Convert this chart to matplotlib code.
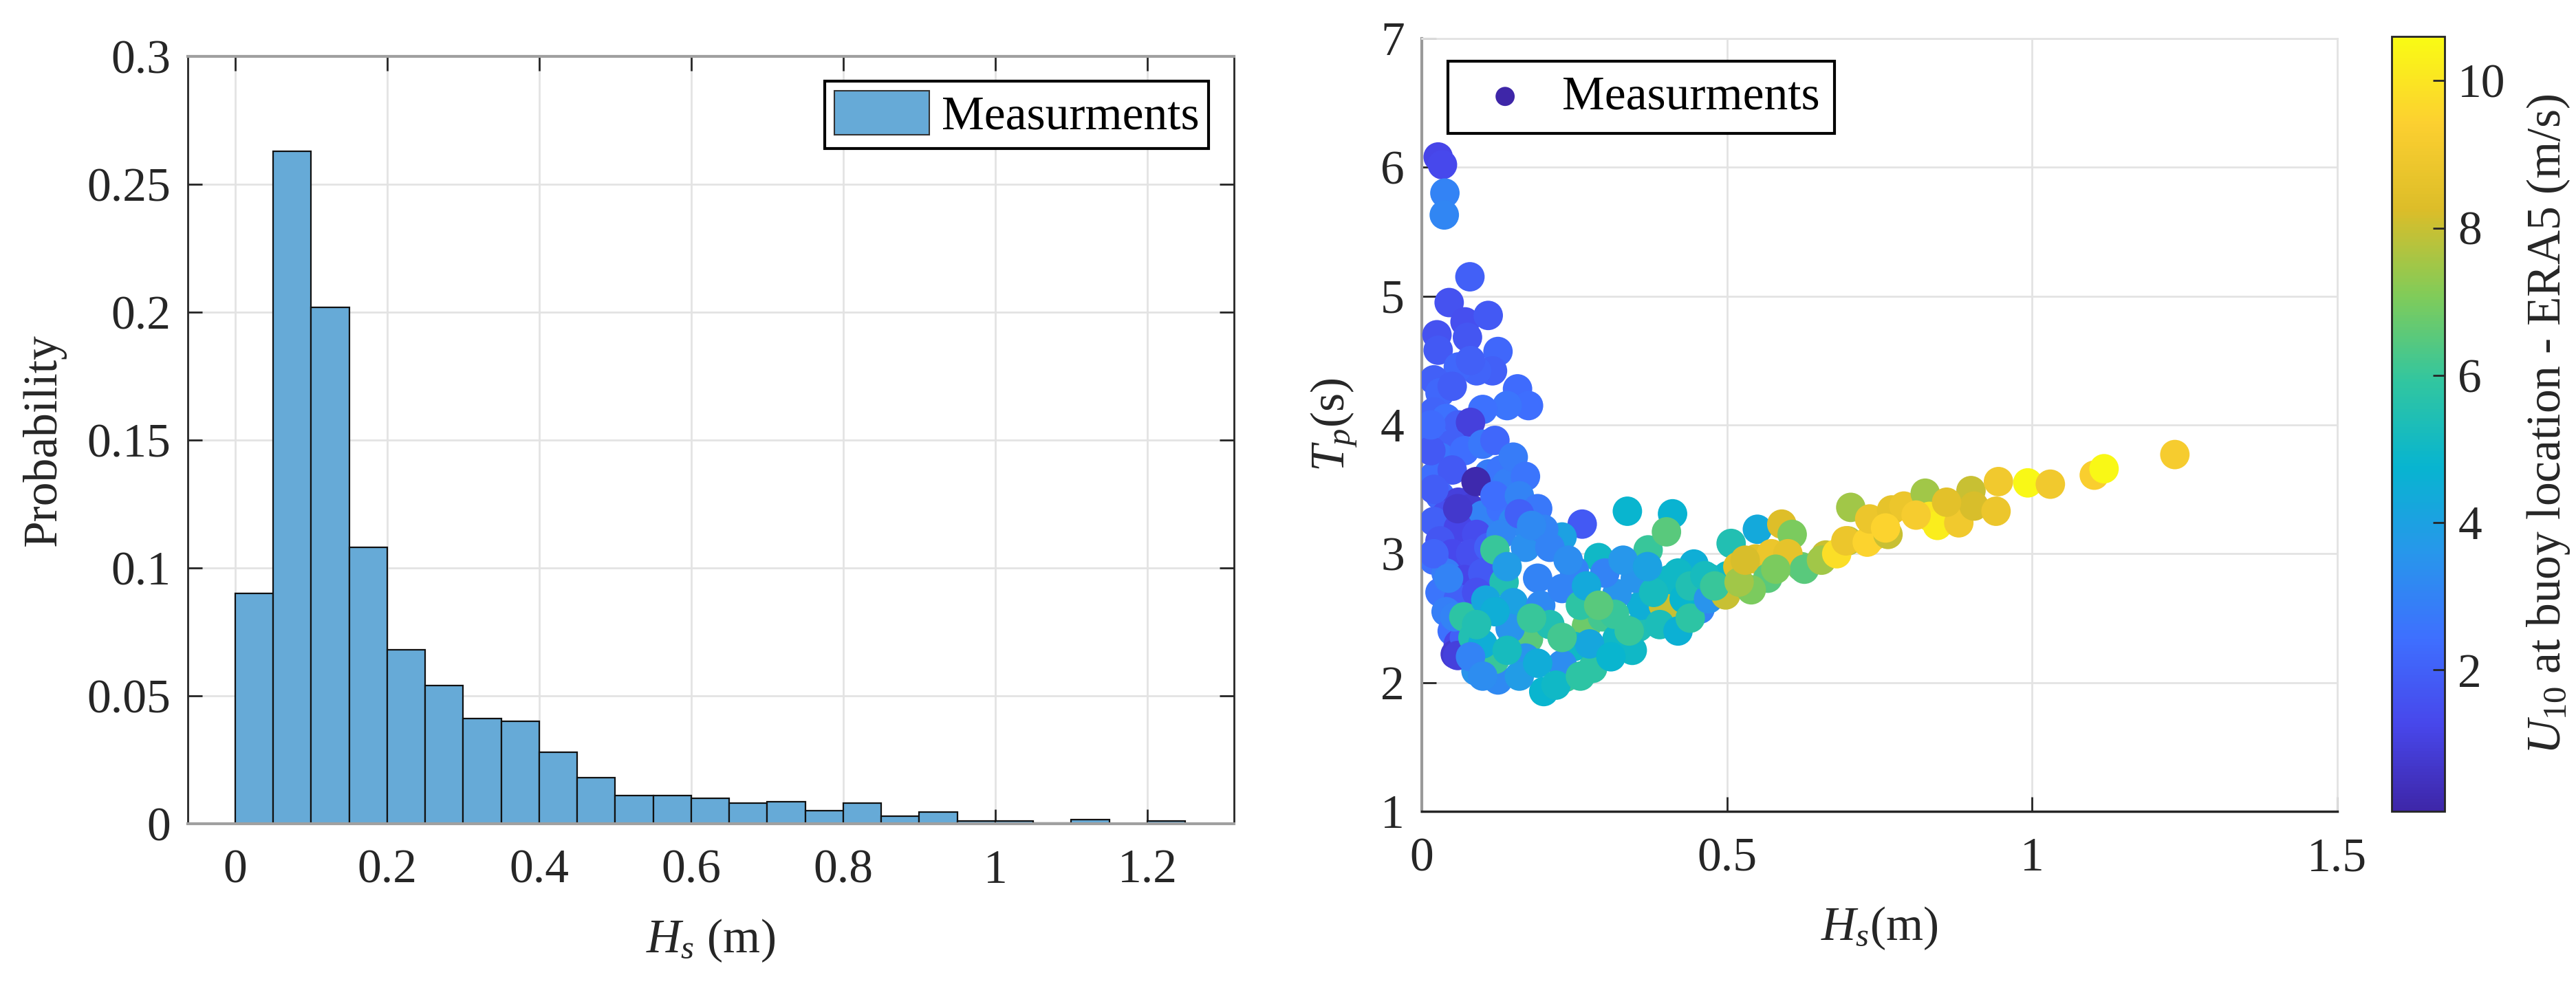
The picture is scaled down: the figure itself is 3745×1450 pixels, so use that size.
import numpy as np
import matplotlib
matplotlib.use('Agg')
import matplotlib.pyplot as plt
from matplotlib.colors import LinearSegmentedColormap
from matplotlib.patches import Patch
from matplotlib.ticker import FormatStrFormatter

plt.rcParams['font.family'] = ['Liberation Serif', 'DejaVu Serif']
plt.rcParams['mathtext.fontset'] = 'custom'
plt.rcParams['mathtext.rm'] = 'Liberation Serif'
plt.rcParams['mathtext.it'] = 'Liberation Serif:italic'

# ---- histogram of Hs (bin width 0.05 m) ----
bin_left = [0.00, 0.05, 0.10, 0.15, 0.20, 0.25, 0.30, 0.35, 0.40, 0.45,
            0.50, 0.55, 0.60, 0.65, 0.70, 0.75, 0.80, 0.85, 0.90, 0.95,
            1.00, 1.05, 1.10, 1.15, 1.20]
prob = [0.090, 0.263, 0.202, 0.108, 0.068, 0.054, 0.041, 0.040, 0.028, 0.018,
        0.011, 0.011, 0.010, 0.008, 0.0087, 0.005, 0.008, 0.003, 0.0045, 0.0012,
        0.0012, 0.0003, 0.0017, 0.0, 0.0012]

# ---- Hs / Tp scatter coloured by U10 ----
# upper outliers
hs = [0.027, 0.034, 0.038, 0.037, 0.079, 0.045, 0.071, 0.109, 0.075, 0.025,
      0.027, 0.125, 0.116, 0.157, 0.175, 0.090, 0.060, 0.140, 0.100, 0.080]
tp = [6.08, 6.02, 5.80, 5.63, 5.15, 4.95, 4.80, 4.85, 4.68, 4.70,
      4.58, 4.57, 4.42, 4.28, 4.15, 4.42, 4.45, 4.15, 4.12, 4.50]
u10 = [1.2, 1.3, 3.0, 3.1, 2.0, 1.6, 1.5, 1.8, 1.7, 1.6,
       1.8, 2.2, 2.0, 2.3, 2.4, 2.1, 2.2, 2.6, 2.5, 2.0]
# low Hs column
hs += [0.020, 0.030, 0.050, 0.020, 0.040, 0.060, 0.080, 0.020, 0.050, 0.030,
       0.070, 0.100, 0.120, 0.020, 0.050, 0.110, 0.130, 0.140, 0.030, 0.060,
       0.080, 0.040, 0.020, 0.100, 0.130, 0.150, 0.060, 0.090, 0.030, 0.050,
       0.080, 0.110, 0.020, 0.040, 0.070, 0.100, 0.030, 0.060, 0.090, 0.040,
       0.070, 0.050, 0.060, 0.055, 0.070, 0.020, 0.020, 0.015, 0.015, 0.089,
       0.059, 0.150, 0.170, 0.120, 0.160, 0.190, 0.130, 0.170]
tp += [4.35, 4.25, 4.30, 4.10, 4.05, 4.00, 4.02, 3.90, 3.85, 3.75,
       3.80, 3.85, 3.88, 3.60, 3.65, 3.62, 3.65, 3.55, 3.45, 3.40,
       3.35, 3.30, 3.25, 3.30, 3.35, 3.25, 3.20, 3.15, 3.10, 3.00,
       3.00, 3.05, 2.95, 2.85, 2.80, 2.85, 2.70, 2.65, 2.70, 2.55,
       2.50, 2.40, 2.30, 2.22, 2.35, 3.50, 3.00, 3.80, 4.00, 3.56,
       3.35, 3.75, 3.60, 3.45, 3.45, 3.35, 3.15, 3.05]
u10 += [2.0, 2.2, 1.9, 2.1, 2.5, 2.0, 1.0, 2.3, 2.0, 2.6,
        2.4, 2.7, 2.2, 2.4, 1.8, 2.8, 2.6, 2.9, 2.2, 1.0,
        0.8, 1.5, 2.0, 3.0, 2.5, 3.2, 1.2, 1.4, 1.7, 1.3,
        1.5, 2.0, 2.5, 2.8, 1.2, 1.8, 2.6, 2.0, 1.5, 2.9,
        3.2, 2.5, 1.2, 0.8, 2.0, 1.9, 2.1, 1.8, 2.3, 0.2,
        0.7, 2.8, 2.6, 2.4, 3.0, 2.7, 3.1, 3.4]
# bottom of the V
hs += [0.263, 0.337, 0.411, 0.120, 0.135, 0.044, 0.054, 0.059, 0.089, 0.125,
       0.200, 0.235, 0.120, 0.069, 0.084, 0.175, 0.270, 0.296, 0.320, 0.355,
       0.360, 0.396, 0.411, 0.456, 0.471, 0.446, 0.406, 0.371, 0.401, 0.230,
       0.200, 0.160, 0.180, 0.290, 0.250, 0.190, 0.150, 0.105, 0.170, 0.250,
       0.280, 0.230, 0.345, 0.145, 0.195, 0.230, 0.320, 0.350, 0.316, 0.210,
       0.260, 0.140, 0.300, 0.380, 0.430, 0.100, 0.160, 0.275, 0.210, 0.240,
       0.330, 0.370, 0.420, 0.440, 0.270, 0.120, 0.090, 0.140, 0.190, 0.220,
       0.260, 0.310, 0.340, 0.390, 0.420, 0.440, 0.290, 0.230, 0.180, 0.080,
       0.100, 0.470]
tp += [3.23, 3.33, 3.31, 3.03, 2.78, 2.81, 2.51, 2.21, 2.09, 2.02,
       1.93, 2.04, 2.18, 2.51, 2.35, 2.34, 2.44, 2.51, 2.34, 2.43,
       2.60, 2.60, 2.51, 2.57, 2.81, 2.92, 2.80, 3.03, 3.17, 3.13,
       3.19, 3.31, 3.22, 2.97, 2.87, 2.81, 2.62, 2.64, 2.19, 2.28,
       2.11, 2.14, 2.25, 2.42, 2.60, 2.73, 2.69, 2.81, 2.53, 2.45,
       2.60, 2.90, 2.85, 2.70, 2.65, 2.30, 2.05, 2.30, 3.05, 2.95,
       2.95, 2.90, 2.85, 2.75, 2.75, 2.55, 2.45, 2.25, 2.15, 1.98,
       2.05, 2.20, 2.40, 2.45, 2.40, 2.50, 2.60, 2.35, 2.50, 2.20,
       2.05, 2.65]
u10 += [1.8, 4.8, 4.7, 6.0, 5.5, 3.0, 3.0, 1.0, 3.5, 3.2,
        4.8, 6.0, 6.0, 5.8, 5.5, 6.5, 6.8, 6.2, 5.0, 5.4,
        4.5, 8.0, 8.0, 3.0, 5.0, 4.5, 5.0, 6.0, 6.5, 4.0,
        3.0, 2.0, 3.2, 5.0, 3.0, 3.0, 4.0, 4.2, 3.5, 5.0,
        5.8, 3.3, 5.0, 3.5, 3.2, 3.0, 3.5, 3.5, 6.0, 5.5,
        5.8, 3.8, 3.0, 5.2, 4.8, 4.5, 3.8, 4.2, 3.0, 3.3,
        3.6, 4.0, 5.0, 5.5, 4.3, 4.5, 5.5, 5.2, 4.4, 5.0,
        5.8, 4.8, 6.0, 5.3, 4.6, 5.8, 6.5, 6.2, 6.0, 3.0,
        3.3, 3.5]
# rising arm towards large Hs
hs += [0.501, 0.507, 0.547, 0.567, 0.550, 0.590, 0.607, 0.622, 0.662, 0.698,
       0.703, 0.738, 0.464, 0.498, 0.518, 0.573, 0.600, 0.627, 0.655, 0.680,
       0.695, 0.730, 0.734, 0.764, 0.770, 0.790, 0.825, 0.832, 0.845, 0.880,
       0.900, 0.905, 0.941, 0.945, 0.993, 1.030, 1.102, 1.118, 1.234, 0.540,
       0.760, 0.810, 0.860, 0.480, 0.520, 0.580, 0.530]
tp += [2.83, 3.08, 2.96, 2.81, 3.19, 3.23, 3.15, 2.90, 2.99, 3.10,
       3.36, 3.13, 2.83, 2.68, 2.90, 3.00, 3.00, 2.88, 2.95, 3.00,
       3.10, 3.09, 3.27, 3.15, 3.34, 3.37, 3.47, 3.29, 3.22, 3.24,
       3.49, 3.37, 3.33, 3.56, 3.55, 3.54, 3.61, 3.66, 3.77, 2.72,
       3.20, 3.30, 3.40, 2.75, 2.78, 2.88, 2.95]
u10 += [5.0, 5.5, 8.5, 6.5, 4.3, 8.3, 7.0, 6.8, 8.0, 7.8,
        7.5, 9.0, 5.2, 8.0, 8.5, 8.8, 8.6, 6.5, 7.5, 9.8,
        8.8, 9.5, 8.8, 8.0, 8.6, 8.8, 7.5, 10.0, 10.2, 9.0,
        8.0, 8.2, 8.8, 9.0, 10.5, 9.0, 9.3, 10.5, 9.2, 7.0,
        9.5, 9.2, 8.5, 6.0, 7.5, 7.0, 8.2]

# matlab parula(10)
parula_pts = [(0.2422, 0.1504, 0.6603), (0.2803, 0.2782, 0.9221),
              (0.2440, 0.4358, 0.9988), (0.1540, 0.5902, 0.9218),
              (0.0297, 0.7082, 0.8163), (0.1938, 0.7758, 0.6251),
              (0.5044, 0.7993, 0.3480), (0.8634, 0.7406, 0.1596),
              (0.9892, 0.8136, 0.1885), (0.9769, 0.9839, 0.0805)]
parula = LinearSegmentedColormap.from_list('parula', parula_pts)

dark = '#262626'
grid_c = '#e3e3e3'
fs = 50

fig = plt.figure(figsize=(37.45, 14.5), dpi=100)

# ---------------- left: histogram ----------------
ax1 = fig.add_axes([0.0729, 0.1738, 0.4061, 0.7697])
ax1.bar(bin_left, prob, width=0.05, align='edge', color='#66aad7',
        edgecolor='#111111', linewidth=1.6, zorder=2)
ax1.set_xlim(-0.0624, 1.314)
ax1.set_ylim(0, 0.3)
ax1.set_xticks([0, 0.2, 0.4, 0.6, 0.8, 1.0, 1.2])
ax1.set_yticks([0, 0.05, 0.1, 0.15, 0.2, 0.25, 0.3])
ax1.xaxis.set_major_formatter(FormatStrFormatter('%g'))
ax1.yaxis.set_major_formatter(FormatStrFormatter('%g'))
ax1.grid(True, color=grid_c, linewidth=2)
ax1.set_axisbelow(True)
ax1.tick_params(direction='in', top=True, right=True, length=15, width=2,
                labelsize=fs, labelcolor=dark, color=dark)
ax1.tick_params(axis='x', pad=27)
ax1.tick_params(axis='y', pad=18)
for s in ['left', 'right']:
    ax1.spines[s].set_color(dark)
    ax1.spines[s].set_linewidth(2)
for s in ['top', 'bottom']:
    ax1.spines[s].set_color('#a0a0a0')
    ax1.spines[s].set_linewidth(3)
ax1.set_xlabel(r'$H_s$ (m)', fontsize=fs, color=dark, labelpad=25)
ax1.set_ylabel('Probability', fontsize=fs, color=dark, labelpad=22)
leg1 = ax1.legend(handles=[Patch(facecolor='#66aad7', edgecolor='#333333', linewidth=1.5,
                                 label='Measurments')],
                  loc='upper right', bbox_to_anchor=(0.976, 0.968), borderaxespad=0,
                  fontsize=fs, fancybox=False, framealpha=1, edgecolor='black',
                  handlelength=2.0, handleheight=1.05, handletextpad=0.25, borderpad=0.2)
leg1.get_frame().set_linewidth(3)

# ---------------- right: Tp vs Hs ----------------
ax2 = fig.add_axes([0.5519, 0.1862, 0.3554, 0.7752])
sc = ax2.scatter(hs, tp, c=u10, cmap=parula, vmin=0.08, vmax=10.6, s=950,
                 edgecolors='none', label='Measurments', zorder=3)
ax2.set_xlim(0, 1.5)
ax2.set_ylim(1, 7)
ax2.set_xticks([0, 0.5, 1, 1.5])
ax2.set_yticks([1, 2, 3, 4, 5, 6, 7])
ax2.xaxis.set_major_formatter(FormatStrFormatter('%g'))
ax2.grid(True, color=grid_c, linewidth=2)
ax2.set_axisbelow(True)
ax2.tick_params(direction='in', length=15, width=2, labelsize=fs,
                labelcolor=dark, color=dark)
ax2.tick_params(axis='x', pad=27)
ax2.tick_params(axis='y', pad=18)
ax2.spines['bottom'].set_color(dark)
ax2.spines['bottom'].set_linewidth(2.5)
ax2.spines['left'].set_color('#999999')
ax2.spines['left'].set_linewidth(3)
for s in ['top', 'right']:
    ax2.spines[s].set_color(grid_c)
    ax2.spines[s].set_linewidth(2)
ax2.set_xlabel(r'$H_s$(m)', fontsize=fs, color=dark, labelpad=25)
ax2.set_ylabel(r'$T_p$(s)', fontsize=fs, color=dark, labelpad=22)
leg2 = ax2.legend(loc='upper left', bbox_to_anchor=(0.0285, 0.9706), borderaxespad=0,
                  fontsize=fs, fancybox=False, framealpha=1, edgecolor='black',
                  markerscale=0.65, handlelength=1.8, handletextpad=0.3, borderpad=0.3)
leg2.get_frame().set_linewidth(3)
h = leg2.legend_handles[0]
h.set_array(None)
h.set_facecolor(parula(0.0))
h.set_edgecolor('none')

# colorbar
cax = fig.add_axes([0.9284, 0.1862, 0.02056, 0.7772])
cb = fig.colorbar(sc, cax=cax)
cb.set_ticks([2, 4, 6, 8, 10])
cax.tick_params(direction='in', length=12, width=2, labelsize=fs,
                labelcolor=dark, color=dark, pad=14)
cb.outline.set_linewidth(2)
cb.outline.set_edgecolor(dark)
cb.set_label(r'$U_{\mathit{10}}$ at buoy location - ERA5 (m/s)', fontsize=fs,
             color=dark, labelpad=20)

fig.savefig('out.png', dpi=100, facecolor='white')
